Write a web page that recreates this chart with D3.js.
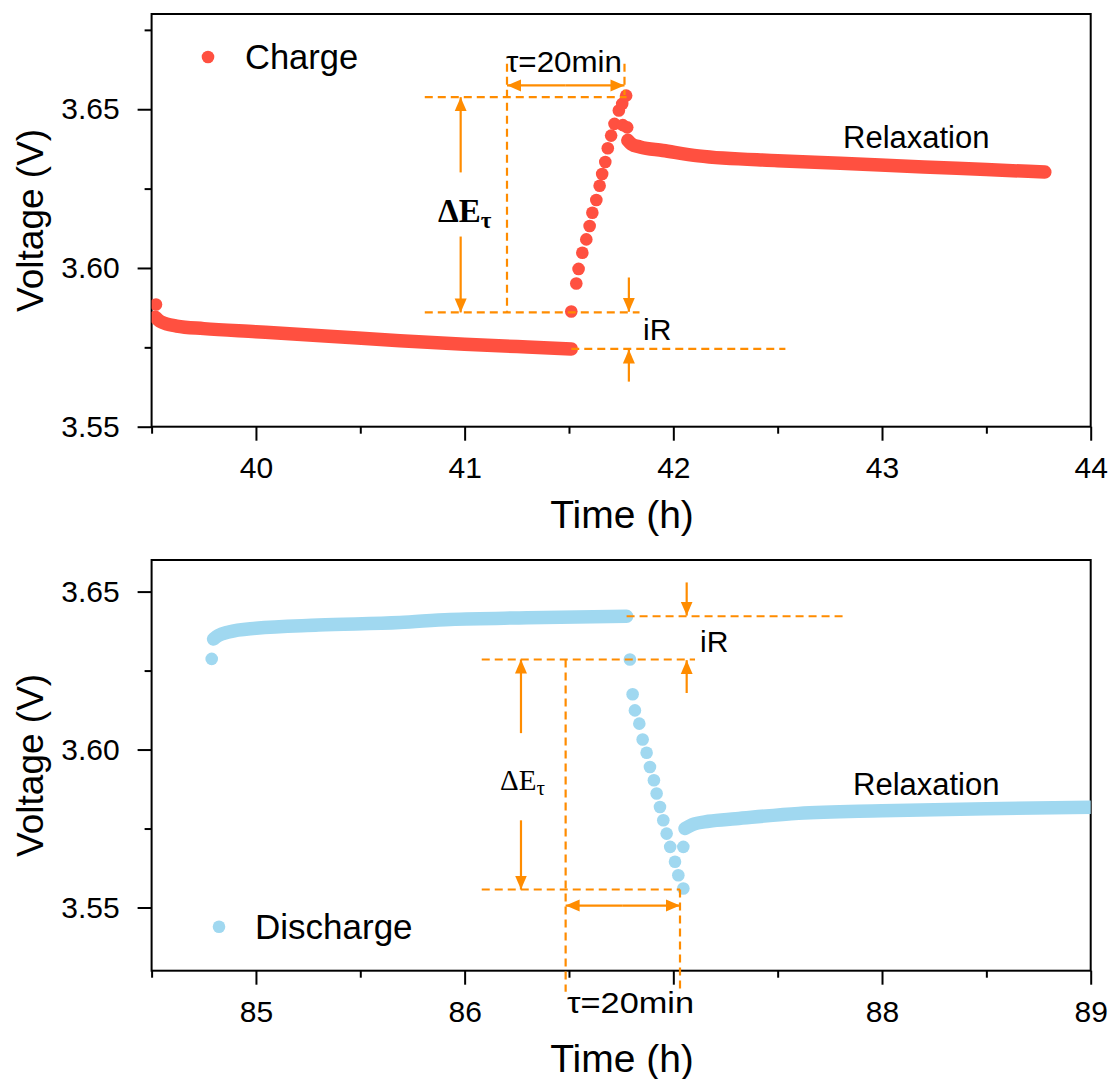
<!DOCTYPE html>
<html lang="en">
<head>
<meta charset="utf-8">
<title>Voltage relaxation: charge / discharge</title>
<script src="https://cdn.jsdelivr.net/npm/d3@7"></script>
<style>
  body { margin: 0; background: #fff; }
  svg { display: block; font-family: "Liberation Sans", Arial, sans-serif; }
  .tick text { font-size: 30px; fill: #000; }
  .tick line { stroke: #000; stroke-width: 2; }
  .dash { stroke: #FF8C00; stroke-width: 2.2; stroke-dasharray: 8 5; fill: none; }
  .arr { stroke: #FF8C00; stroke-width: 2.2; fill: none; }
</style>
</head>
<body>
<svg width="1112" height="1079"></svg>
<script>
// ---- data: [time (h), voltage (V)] ----
// charge panel
var chargeRestBand = [[39.518,3.5845],[39.54,3.5832],[39.57,3.5824],[39.62,3.5817],[39.75,3.5809],[40.0,3.5799],
  [40.35,3.5785],[40.69,3.5771],[41.0,3.5760],[41.3,3.5751],[41.511,3.5745]];
var chargeDots = [[39.521,3.5885],[41.511,3.5863],[41.535,3.5951],[41.546,3.5997],[41.564,3.6048],[41.583,3.6090],
  [41.599,3.6132],[41.612,3.6174],[41.631,3.6214],[41.647,3.6259],[41.659,3.6296],[41.674,3.6334],
  [41.686,3.6377],[41.702,3.6417],[41.718,3.6454],[41.739,3.6496],[41.755,3.6517],[41.774,3.6543],
  [41.758,3.6450],[41.779,3.6443]];
var chargeRelaxBand = [[41.782,3.6402],[41.80,3.6390],[41.84,3.6381],[41.95,3.6370],[42.12,3.6353],[42.5,3.6338],
  [42.8,3.6330],[43.2,3.6318],[43.5,3.6310],[43.78,3.6302]];
// discharge panel
var dischargeRestBand = [[84.797,3.6350],[84.82,3.6361],[84.87,3.6372],[85.0,3.6384],[85.3,3.6394],[85.69,3.6402],
  [85.93,3.6412],[86.3,3.6417],[86.776,3.6422]];
var dischargeDots = [[84.788,3.6287],[86.792,3.6285],[86.805,3.6175],[86.816,3.6124],[86.837,3.6082],[86.853,3.6032],
  [86.872,3.5990],[86.888,3.5945],[86.907,3.5903],[86.920,3.5861],[86.936,3.5818],[86.952,3.5776],
  [86.968,3.5734],[86.985,3.5692],[87.008,3.5645],[87.024,3.5602],[87.048,3.5560],[87.048,3.5692]];
var dischargeRelaxBand = [[87.056,3.5750],[87.09,3.5762],[87.17,3.5773],[87.3,3.5781],[87.6,3.5798],[88.0,3.5806],
  [88.5,3.5813],[89.05,3.5818]];

// ticks (the 87 label is hidden under the τ=20min note in the original)
var xTicksTop = [40, 41, 42, 43, 44], xMinorTop = [39.5, 40.5, 41.5, 42.5, 43.5];
var xTicksBot = [85, 86, 87, 88, 89], xMinorBot = [84.5, 85.5, 86.5, 87.5, 88.5];
var xHiddenBot = [87];
var yTicksTop = [3.55, 3.60, 3.65], yMinorTop = [3.575, 3.625, 3.675];
var yTicksBot = [3.55, 3.60, 3.65], yMinorBot = [3.575, 3.625];

var red = "#FF5040", blue = "#A0D8F0", orange = "#FF8C00";

var svg = d3.select("svg");
var defs = svg.append("defs");
defs.append("marker").attr("id", "head")
    .attr("viewBox", "0 -7 15 14").attr("refX", 14).attr("refY", 0)
    .attr("markerUnits", "userSpaceOnUse").attr("markerWidth", 15).attr("markerHeight", 14)
    .attr("orient", "auto")
  .append("path").attr("d", "M0,-6L14,0L0,6Z").attr("fill", orange);

function panel(opt) {
  var x = d3.scaleLinear().domain(opt.xDomain).range([151.6, 1090.7]);
  var y = d3.scaleLinear().domain(opt.yDomain).range(opt.yRange);
  var g = svg.append("g");
  var clipId = "clip" + opt.id;
  defs.append("clipPath").attr("id", clipId).append("rect")
      .attr("x", x.range()[0]).attr("y", y.range()[1])
      .attr("width", x.range()[1] - x.range()[0]).attr("height", y.range()[0] - y.range()[1]);

  var hidden = opt.xHidden || [];
  var fx = function(d) { return hidden.indexOf(d) >= 0 ? "" : d3.format("d")(d); };

  // axes
  var bottom = y.range()[0];
  g.append("g").attr("transform", "translate(0," + bottom + ")")
      .call(d3.axisBottom(x).tickValues(opt.xTicks).tickSize(14).tickPadding(16).tickFormat(fx))
      .call(function(a) { a.select(".domain").remove(); a.selectAll("text").attr("font-family", null).attr("font-size", null); });
  g.append("g").attr("transform", "translate(0," + bottom + ")")
      .call(d3.axisBottom(x).tickValues(opt.xMinor).tickSize(7).tickFormat(""))
      .call(function(a) { a.select(".domain").remove(); });
  g.append("g").attr("transform", "translate(" + x.range()[0] + ",0)")
      .call(d3.axisLeft(y).tickValues(opt.yTicks).tickSize(14).tickPadding(18).tickFormat(d3.format(".2f")))
      .call(function(a) { a.select(".domain").remove(); a.selectAll("text").attr("font-family", null).attr("font-size", null); });
  g.append("g").attr("transform", "translate(" + x.range()[0] + ",0)")
      .call(d3.axisLeft(y).tickValues(opt.yMinor).tickSize(7).tickFormat(""))
      .call(function(a) { a.select(".domain").remove(); });
  g.append("rect")
      .attr("x", x.range()[0]).attr("y", y.range()[1])
      .attr("width", x.range()[1] - x.range()[0]).attr("height", y.range()[0] - y.range()[1])
      .attr("fill", "none").attr("stroke", "#000").attr("stroke-width", 2);

  g.append("text").attr("x", 622).attr("y", bottom + 101).attr("text-anchor", "middle")
      .attr("font-size", 39).text("Time (h)");
  g.append("text").attr("transform", "translate(43," + (y.range()[0] + y.range()[1]) / 2 + ") rotate(-90)")
      .attr("text-anchor", "middle").attr("font-size", 37).text("Voltage (V)");

  // data
  var plot = g.append("g").attr("clip-path", "url(#" + clipId + ")");
  var line = d3.line().x(function(d) { return x(d[0]); }).y(function(d) { return y(d[1]); }).curve(d3.curveMonotoneX);
  opt.bands.forEach(function(b) {
    plot.append("path").datum(b).attr("d", line).attr("fill", "none")
        .attr("stroke", opt.color).attr("stroke-width", 13.5)
        .attr("stroke-linecap", "round").attr("stroke-linejoin", "round");
  });
  plot.selectAll(".dot").data(opt.dots).enter().append("circle")
      .attr("cx", function(d) { return x(d[0]); }).attr("cy", function(d) { return y(d[1]); })
      .attr("r", 6.3).attr("fill", opt.color);

  // annotations (in data units)
  var ann = g.append("g");
  opt.dashes.forEach(function(s) {
    ann.append("line").attr("class", "dash")
        .attr("x1", x(s[0])).attr("y1", y(s[1])).attr("x2", x(s[2])).attr("y2", y(s[3]));
  });
  opt.arrows.forEach(function(s) {
    ann.append("line").attr("class", "arr")
        .attr("x1", x(s[0])).attr("y1", y(s[1])).attr("x2", x(s[2])).attr("y2", y(s[3]))
        .attr("marker-end", "url(#head)");
  });
  return { x: x, y: y, g: g };
}

// ---------- top: charge ----------
var chargePanel = panel({
  id: "t", xDomain: [39.5, 44], yDomain: [3.55, 3.68], yRange: [426.7, 14],
  xTicks: xTicksTop, xMinor: xMinorTop, yTicks: yTicksTop, yMinor: yMinorTop,
  color: red, bands: [chargeRestBand, chargeRelaxBand], dots: chargeDots,
  dashes: [
    [40.809, 3.6538, 41.776, 3.6538],
    [40.809, 3.5860, 41.838, 3.5860],
    [41.511, 3.5745, 42.537, 3.5745],
    [41.203, 3.6643, 41.203, 3.5860],
    [41.766, 3.6643, 41.766, 3.6545]
  ],
  arrows: [
    [41.4845, 3.6575, 41.203, 3.6575], [41.4845, 3.6575, 41.766, 3.6575],
    [40.981, 3.6301, 40.981, 3.6538], [40.981, 3.6099, 40.981, 3.5860],
    [41.787, 3.5970, 41.787, 3.5862], [41.787, 3.5642, 41.787, 3.5743]
  ]
});
var tg = chargePanel.g;
tg.append("circle").attr("cx", 208).attr("cy", 57).attr("r", 6.3).attr("fill", red);
tg.append("text").attr("x", 245).attr("y", 68.5).attr("font-size", 34.5).text("Charge");
tg.append("text").attr("x", 843).attr("y", 148).attr("font-size", 31).text("Relaxation");
tg.append("text").attr("x", 506).attr("y", 72).attr("font-size", 29)
    .attr("textLength", 116).attr("lengthAdjust", "spacingAndGlyphs").text("τ=20min");
tg.append("text").attr("x", 643).attr("y", 340).attr("font-size", 30).text("iR");
var dt = tg.append("text").attr("x", 438).attr("y", 222).attr("font-family", "'Liberation Serif', 'Times New Roman', serif")
    .attr("font-weight", "bold").attr("font-size", 33);
dt.append("tspan").text("ΔE");
dt.append("tspan").attr("font-size", 23).attr("dy", 6).text("τ");

// ---------- bottom: discharge ----------
var dischargePanel = panel({
  id: "b", xDomain: [84.5, 89], yDomain: [3.53, 3.66], yRange: [970.7, 560],
  xTicks: xTicksBot, xMinor: xMinorBot, xHidden: xHiddenBot, yTicks: yTicksBot, yMinor: yMinorBot,
  color: blue, bands: [dischargeRestBand, dischargeRelaxBand], dots: dischargeDots,
  dashes: [
    [86.776, 3.6422, 87.813, 3.6422],
    [86.082, 3.6285, 87.104, 3.6285],
    [86.082, 3.5557, 87.032, 3.5557],
    [86.484, 3.6285, 86.484, 3.5233],
    [87.032, 3.5557, 87.032, 3.5233]
  ],
  arrows: [
    [86.758, 3.5506, 86.484, 3.5506], [86.758, 3.5506, 87.032, 3.5506],
    [86.27, 3.6052, 86.27, 3.6285], [86.27, 3.5776, 86.27, 3.5557],
    [87.064, 3.6529, 87.064, 3.6424], [87.064, 3.6179, 87.064, 3.6283]
  ]
});
var bg = dischargePanel.g;
bg.append("circle").attr("cx", 219).attr("cy", 926.7).attr("r", 6.3).attr("fill", blue);
bg.append("text").attr("x", 255).attr("y", 939.3).attr("font-size", 35).text("Discharge");
bg.append("text").attr("x", 853).attr("y", 795).attr("font-size", 31).text("Relaxation");
bg.append("text").attr("x", 700).attr("y", 652).attr("font-size", 30).text("iR");
bg.append("text").attr("x", 567).attr("y", 1013).attr("font-size", 30)
    .attr("textLength", 127).attr("lengthAdjust", "spacingAndGlyphs").text("τ=20min");
var db = bg.append("text").attr("x", 500).attr("y", 790).attr("font-family", "'Liberation Serif', 'Times New Roman', serif")
    .attr("font-size", 29);
db.append("tspan").text("ΔE");
db.append("tspan").attr("font-size", 21).attr("dy", 5).text("τ");
</script>
</body>
</html>
